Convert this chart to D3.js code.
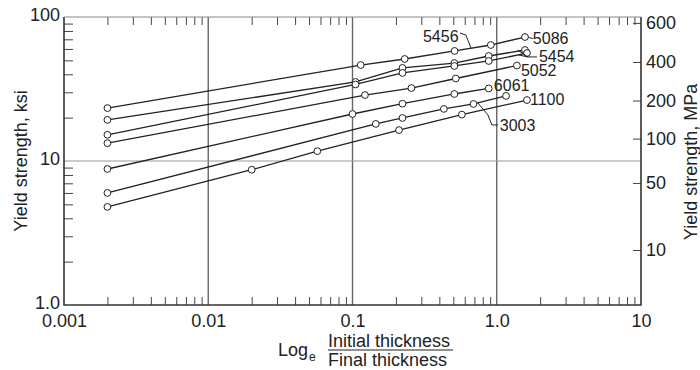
<!DOCTYPE html>
<html>
<head>
<meta charset="utf-8">
<script src="https://cdn.jsdelivr.net/npm/d3@7"></script>
<style>
  body { margin: 0; background: #fff; }
  svg { display: block; font-family: "Liberation Sans", Arial, Helvetica, sans-serif; }
  .tick text { fill: #222; }
</style>
</head>
<body>
<div id="chart"></div>
<script>
// strain values (log_e t0/t) and yield strength (ksi)
const alloy5456 = [[0.002, 23.3], [0.114, 46.4], [0.23, 51.1], [0.51, 58.1], [0.91, 63.9], [1.57, 72.6]];
const alloy5086 = [[0.002, 19.3], [0.105, 35.4], [0.222, 44.3], [0.508, 47.9], [0.88, 53.6], [1.57, 59.0]];
const alloy5454 = [[0.002, 15.2], [0.105, 34.0], [0.222, 40.9], [0.508, 45.7], [0.88, 49.5], [1.62, 56.2]];
const alloy5052 = [[0.002, 13.3], [0.122, 28.7], [0.256, 32.1], [0.52, 37.4], [1.38, 46.0]];
const alloy6061 = [[0.002, 8.8], [0.1, 21.2], [0.222, 25.0], [0.508, 29.2], [0.88, 31.9]];
const alloy3003 = [[0.002, 6.0], [0.145, 18.1], [0.222, 19.9], [0.43, 23.0], [0.69, 24.9], [1.16, 28.3]];
const alloy1100 = [[0.002, 4.8], [0.02, 8.7], [0.057, 11.7], [0.21, 16.4], [0.573, 21.0], [1.62, 26.5]];

const series = [alloy5456, alloy5086, alloy5454, alloy5052, alloy6061, alloy3003, alloy1100];

const xMajor = [0.001, 0.01, 0.1, 1, 10];
const xMajorLabels = ['0.001', '0.01', '0.1', '1.0', '10'];
const yMajor = [1, 10, 100];
const yMajorLabels = ['1.0', '10', '100'];
// MPa scale on the right, placed where the figure puts it (in ksi units)
const mpaLabels = ['600', '400', '200', '100', '50', '10'];
const mpaAtKsi = [91, 48.7, 26.3, 14.3, 7.04, 2.41];

// alloy labels, anchored in data units
const labels = [
  { text: '5456', at: [0.308, 67.1], leader: [[0.555, 77.4], [0.611, 75.0], [0.662, 60.9]] },
  { text: '5086', at: [1.78, 64.9], leader: [[1.67, 72.0], [1.78, 70.9]] },
  { text: '5454', at: [1.96, 48.7], leader: [[1.90, 52.8], [1.64, 52.8], [1.40, 59.0]] },
  { text: '', at: [1.96, 48.7], leader: [[1.64, 52.8], [1.42, 54.5]] },
  { text: '5052', at: [1.47, 38.9], leader: [] },
  { text: '6061', at: [0.955, 30.6], leader: [] },
  { text: '1100', at: [1.70, 24.5], leader: [] },
  { text: '3003', at: [1.05, 16.2], leader: [[0.74, 25.3], [0.868, 20.9], [0.925, 17.8], [1.02, 17.8]] },
];

const width = 700;
const height = 370;
const margin = { top: 17, right: 59, bottom: 65, left: 64 };

const svg = d3.select('#chart')
  .append('svg')
  .attr('width', width)
  .attr('height', height);

const x = d3.scaleLog()
  .domain([0.001, 10])
  .range([margin.left, width - margin.right]);

const y = d3.scaleLog()
  .domain([1, 100])
  .range([height - margin.bottom, margin.top]);

const x0 = x.range()[0], x1 = x.range()[1];
const y0 = y.range()[0], y1 = y.range()[1];

// minor tick values for each decade
function minors(lo, hi) {
  const out = [];
  for (let d = lo; d < hi; d *= 10) {
    for (let k = 2; k <= 9; k++) out.push(d * k);
  }
  return out;
}
const xMinor = minors(0.001, 10);
const yMinor = minors(1, 100);

// gridlines
svg.append('g')
  .selectAll('line')
  .data([0.01, 0.1, 1])
  .join('line')
  .attr('x1', (d) => x(d)).attr('x2', (d) => x(d))
  .attr('y1', y1).attr('y2', y0)
  .attr('stroke', '#666')
  .attr('stroke-width', 1.4);

svg.append('line')
  .attr('x1', x0).attr('x2', x1)
  .attr('y1', y(10)).attr('y2', y(10))
  .attr('stroke', '#999')
  .attr('stroke-width', 1);

// minor ticks, inside the frame
svg.append('g')
  .attr('transform', `translate(0,${y0})`)
  .call(d3.axisBottom(x).tickValues(xMinor).tickSize(-8).tickFormat(''))
  .call((g) => g.select('.domain').remove());
svg.append('g')
  .attr('transform', `translate(0,${y1})`)
  .call(d3.axisTop(x).tickValues(xMinor).tickSize(-8).tickFormat(''))
  .call((g) => g.select('.domain').remove());
svg.append('g')
  .attr('transform', `translate(${x0},0)`)
  .call(d3.axisLeft(y).tickValues(yMinor).tickSize(-9).tickFormat(''))
  .call((g) => g.select('.domain').remove());
svg.selectAll('.tick line').attr('stroke', '#444');

// major labels
svg.append('g')
  .attr('transform', `translate(0,${y0})`)
  .call(d3.axisBottom(x).tickValues(xMajor).tickSize(0).tickPadding(9)
    .tickFormat((d, i) => xMajorLabels[i]))
  .call((g) => g.select('.domain').remove())
  .selectAll('text').attr('font-size', 18).attr('font-family', null);

svg.append('g')
  .attr('transform', `translate(${x0},0)`)
  .call(d3.axisLeft(y).tickValues(yMajor).tickSize(0).tickPadding(4)
    .tickFormat((d, i) => yMajorLabels[i]))
  .call((g) => g.select('.domain').remove())
  .selectAll('text').attr('font-size', 18).attr('font-family', null).attr('dy', '0.22em');

const right = svg.append('g')
  .attr('transform', `translate(${x1},0)`)
  .call(d3.axisRight(y).tickValues(mpaAtKsi).tickSizeInner(-8).tickSizeOuter(0).tickPadding(5)
    .tickFormat((d, i) => mpaLabels[i]))
  .call((g) => g.select('.domain').remove());
right.selectAll('text').attr('font-size', 18).attr('font-family', null);
right.selectAll('line').attr('stroke', '#444');

// frame
svg.append('path')
  .attr('d', `M${x0},${y1}V${y0}H${x1}V${y1}`)
  .attr('fill', 'none')
  .attr('stroke', '#333')
  .attr('stroke-width', 1.6);
svg.append('line')
  .attr('x1', x0).attr('x2', x1)
  .attr('y1', y1).attr('y2', y1)
  .attr('stroke', '#888')
  .attr('stroke-width', 1);

// curves
const line = d3.line()
  .x((d) => x(d[0]))
  .y((d) => y(d[1]));

svg.append('g')
  .selectAll('path')
  .data(series)
  .join('path')
  .attr('d', line)
  .attr('fill', 'none')
  .attr('stroke', '#222')
  .attr('stroke-width', 1.3);

svg.append('g')
  .selectAll('circle')
  .data(series.flat())
  .join('circle')
  .attr('cx', (d) => x(d[0]))
  .attr('cy', (d) => y(d[1]))
  .attr('r', 3.4)
  .attr('fill', '#fff')
  .attr('stroke', '#222')
  .attr('stroke-width', 1);

// labels and leaders
const lab = svg.append('g');
lab.selectAll('path')
  .data(labels.filter((d) => d.leader.length))
  .join('path')
  .attr('d', (d) => line(d.leader))
  .attr('fill', 'none')
  .attr('stroke', '#222')
  .attr('stroke-width', 1);
lab.selectAll('text')
  .data(labels.filter((d) => d.text))
  .join('text')
  .attr('x', (d) => x(d.at[0]))
  .attr('y', (d) => y(d.at[1]))
  .attr('font-size', 16)
  .attr('fill', '#222')
  .text((d) => d.text);

// axis titles
svg.append('text')
  .attr('transform', `translate(27,${(y0 + y1) / 2}) rotate(-90)`)
  .attr('text-anchor', 'middle')
  .attr('font-size', 18)
  .attr('fill', '#222')
  .text('Yield strength, ksi');

svg.append('text')
  .attr('transform', `translate(697,162) rotate(-90)`)
  .attr('text-anchor', 'middle')
  .attr('font-size', 18)
  .attr('fill', '#222')
  .text('Yield strength, MPa');

const xt = svg.append('g').attr('fill', '#222');
xt.append('text').attr('x', 278).attr('y', 356).attr('font-size', 18).text('Log');
xt.append('text').attr('x', 309).attr('y', 361).attr('font-size', 12).text('e');
xt.append('text').attr('x', 328).attr('y', 347).attr('font-size', 18).text('Initial thickness');
xt.append('line')
  .attr('x1', 328).attr('x2', 453)
  .attr('y1', 350).attr('y2', 350)
  .attr('stroke', '#222').attr('stroke-width', 1.2);
xt.append('text').attr('x', 328).attr('y', 366).attr('font-size', 18).text('Final thickness');
</script>
</body>
</html>
